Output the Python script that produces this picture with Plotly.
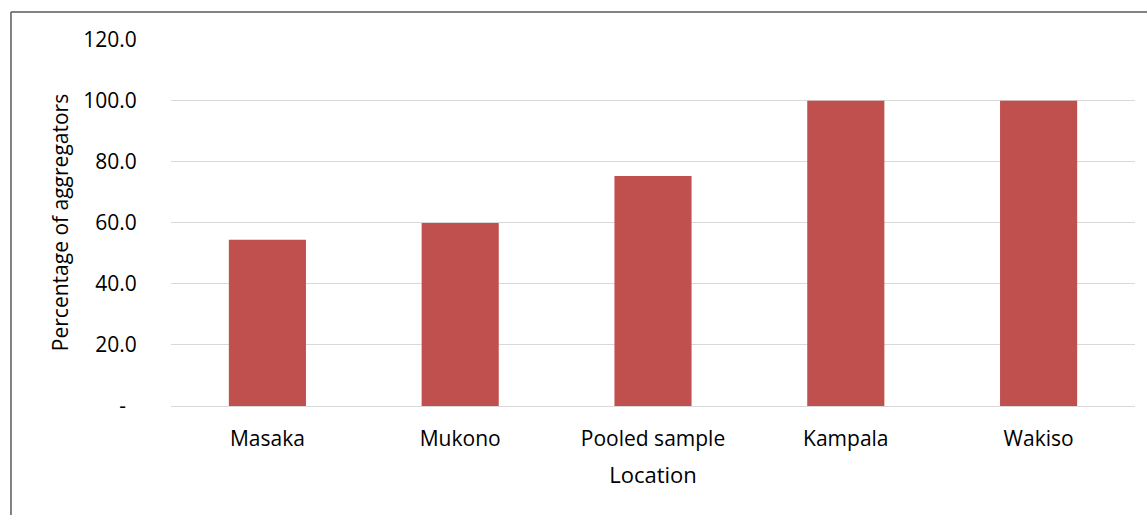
import plotly.graph_objects as go

locations = ["Masaka", "Mukono", "Pooled sample", "Kampala", "Wakiso"]
share_pct = [54.5, 60.0, 75.4, 100.0, 100.0]

y_ticks = [0, 20, 40, 60, 80, 100, 120]
y_tick_text = ["-\u00a0\u00a0", "20.0", "40.0", "60.0", "80.0", "100.0", "120.0"]

BAR_COLOR = "#C0504D"
FONT = "'Open Sans', Lato, sans-serif"

fig = go.Figure(
    go.Bar(
        x=locations,
        y=share_pct,
        marker=dict(color=BAR_COLOR, line=dict(width=0)),
        width=0.4,
    )
)

fig.update_layout(
    width=1147,
    height=515,
    margin=dict(l=171, r=12, t=39, b=109),
    paper_bgcolor="white",
    plot_bgcolor="white",
    showlegend=False,
    font=dict(family=FONT, color="#000000", size=21),
    xaxis=dict(
        title=dict(text="Location", font=dict(size=22), standoff=16),
        showgrid=False,
        showline=False,
        ticks="outside",
        ticklen=14,
        tickcolor="rgba(0,0,0,0)",
        tickfont=dict(size=21),
    ),
    yaxis=dict(
        title=dict(text="Percentage of aggregators", font=dict(size=21), standoff=8),
        range=[0, 120.25],
        tickvals=y_ticks,
        ticktext=y_tick_text,
        showgrid=True,
        gridcolor="#D9D9D9",
        gridwidth=1.3,
        zeroline=True,
        zerolinecolor="#D9D9D9",
        zerolinewidth=1.3,
        showline=False,
        ticks="outside",
        ticklen=29,
        tickcolor="rgba(0,0,0,0)",
        tickfont=dict(size=21),
    ),
)

# chart-area frame (top and left edges)
frame = dict(color="#595959", width=1.5)
fig.add_shape(type="line", xref="paper", yref="paper",
              x0=-0.166, x1=1.2, y0=1.0738, y1=1.0738, line=frame)
fig.add_shape(type="line", xref="paper", yref="paper",
              x0=-0.166, x1=-0.166, y0=1.0738, y1=-0.5, line=frame)

fig.write_html("out.html")
